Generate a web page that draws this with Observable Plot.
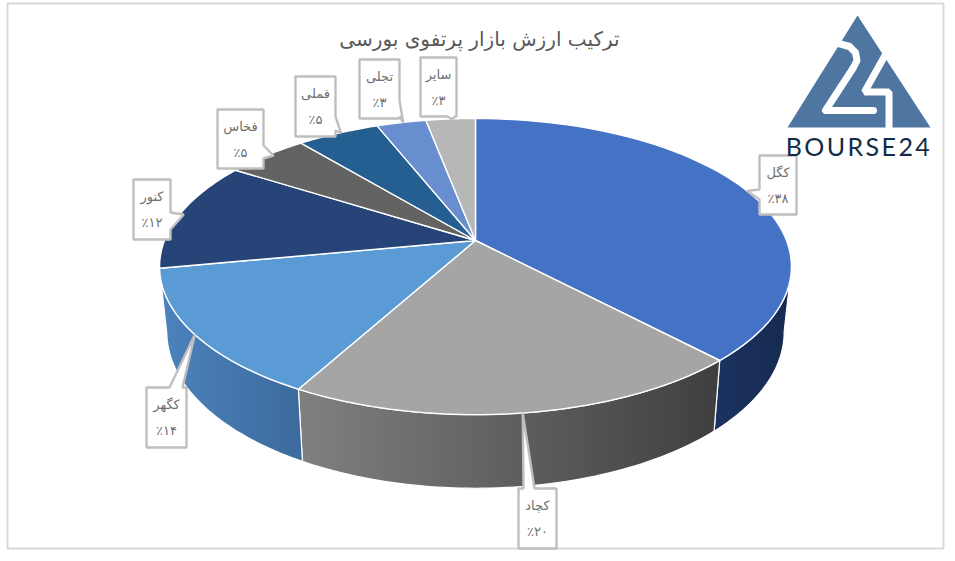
<!DOCTYPE html>
<html lang="fa">
<head>
<meta charset="utf-8">
<script src="https://cdn.jsdelivr.net/npm/d3@7"></script>
<script src="https://cdn.jsdelivr.net/npm/@observablehq/plot@0.6"></script>
<style>
html,body{margin:0;padding:0;background:#fff;}
svg{display:block;}
</style>
</head>
<body>
<div id="chart"></div>
<script>
// ---- data ----
const titleText = "ترکیب ارزش بازار پرتفوی بورسی";
const logoText = "BOURSE24";
const symbols = ["کگل", "کچاد", "کگهر", "کنور", "فخاس", "فملی", "تجلی", "سایر"];
const shares = [38, 20, 14, 12, 5, 5, 3, 3];
const sliceColors = ["#4472c4", "#a5a5a5", "#5b9bd5", "#264478", "#636363", "#255e91", "#698ed0", "#b7b7b7"];

// ---- layout constants ----
const W = 955, H = 561;
const pie = {cx: 475, cy: 240, a: 311, b: 143.5, p: 0.176, floorCy: 304, floorScaleX: 0.977, floorScaleY: 1.055};
const VISIBLE = [100, 260]; // degrees of rim facing the viewer
const calloutBoxes = [
  {box: [759, 155, 796, 214], side: "left", base: [189, 199], dx: 0},
  {box: [518, 488, 556, 548], side: "top", base: [523, 534], dx: 0},
  {box: [146, 387, 186, 447], side: "top", base: [169, 182], dx: 0},
  {box: [133, 179, 170, 239], side: "right", base: [212, 229], dx: 4},
  {box: [217, 109, 263, 168], side: "right", base: [145, 158], dx: 7},
  {box: [295, 76, 335, 136], side: "right", base: [116, 130], dx: 3},
  {box: [359, 59, 399, 118], side: "right", base: [100, 116], dx: 2},
  {box: [420, 57, 456, 116], side: "bottom", base: [447, 455], dx: 1}
];
const wallGradients = {
  wall0: ["#1b3361", "#162a50"],
  wall1: ["#808080", "#3f3f3f"],
  wall2: ["#4c83bd", "#3c6a9c"]
};
const logoColor = "#4f76a0";

// ---- projection of the tilted disc ----
const rad = d => d * Math.PI / 180;
function rim(deg) {
  const s = Math.sin(rad(deg)), c = Math.cos(rad(deg)), d = 1 + pie.p * c;
  return {x: pie.cx + pie.a * s / d, y: pie.cy - pie.b * c / d};
}
function floor(deg) {
  const s = Math.sin(rad(deg)), c = Math.cos(rad(deg)), d = 1 + pie.p * c;
  return {x: pie.cx + pie.floorScaleX * pie.a * s / d, y: pie.floorCy - pie.floorScaleY * pie.b * c / d};
}
const arc = (f, a0, a1) => d3.range(0, 61).map(i => f(a0 + (a1 - a0) * i / 60));

const cumulative = d3.cumsum(shares);
const total = d3.sum(shares);
const slices = shares.map((v, i) => ({
  i, start: (cumulative[i] - v) / total * 360, end: cumulative[i] / total * 360
}));

// top faces
const topRows = slices.flatMap(s => {
  const pts = [{x: pie.cx, y: pie.cy}, ...arc(rim, s.start, s.end), {x: pie.cx, y: pie.cy}];
  return pts.map(p => ({...p, z: s.i}));
});

// outer wall faces
const wallRows = slices.flatMap(s => {
  const a0 = Math.max(s.start, VISIBLE[0]), a1 = Math.min(s.end, VISIBLE[1]);
  if (a1 <= a0) return [];
  const pts = [...arc(rim, a0, a1), ...arc(floor, a1, a0)];
  pts.push(pts[0]);
  return pts.map(p => ({...p, z: s.i}));
});

// callouts
const callouts = slices.map(s => {
  const L = calloutBoxes[s.i], [x0, y0, x1, y1] = L.box, [b0, b1] = L.base;
  const t = rim((s.start + s.end) / 2), tip = {x: t.x + L.dx, y: t.y};
  const P = (x, y) => ({x, y});
  const top = L.side === "top" ? [P(b0, y0), tip, P(b1, y0)] : [];
  const right = L.side === "right" ? [P(x1, b0), tip, P(x1, b1)] : [];
  const bottom = L.side === "bottom" ? [P(b1, y1), tip, P(b0, y1)] : [];
  const left = L.side === "left" ? [P(x0, b1), tip, P(x0, b0)] : [];
  const outline = [P(x0, y0), ...top, P(x1, y0), ...right, P(x1, y1), ...bottom, P(x0, y1), ...left, P(x0, y0)];
  return {i: s.i, outline, cx: (x0 + x1) / 2, y0};
});
const calloutRows = callouts.flatMap(c => c.outline.map(p => ({...p, z: c.i})));
const persian = n => String(n).replace(/\d/g, d => "۰۱۲۳۴۵۶۷۸۹"[d]);
const nameRows = callouts.map(c => ({x: c.cx, y: c.y0 + 17, t: symbols[c.i]}));
const valueRows = callouts.map(c => ({x: c.cx, y: c.y0 + 43, t: "٪" + persian(shares[c.i])}));

// logo
const logoTriangle = [[857, 15], [787, 127], [930, 127], [857, 15]].map(([x, y]) => ({x, y}));
const logoTwo = [[838, 43], [849, 46], [855, 52], [856.5, 60], [853, 67], [825, 110], [873, 110]].map(([x, y]) => ({x, y}));
const logoFour = [[888.5, 130], [888.5, 91.5], [864, 91.5], [885, 54]].map(([x, y]) => ({x, y}));
const frame = [[7, 3], [943, 3], [943, 548], [7, 548], [7, 3]].map(([x, y]) => ({x, y}));

const uiFont = "'DejaVu Sans', 'Noto Sans', sans-serif";

const chart = Plot.plot({
  width: W, height: H,
  margin: 0,
  x: {domain: [0, W], range: [0, W], axis: null},
  y: {domain: [0, H], range: [0, H], axis: null},
  style: {background: "#fff"},
  marks: [
    () => {
      const ns = "http://www.w3.org/2000/svg";
      const defs = document.createElementNS(ns, "defs");
      for (const [id, [c0, c1]] of Object.entries(wallGradients)) {
        const g = document.createElementNS(ns, "linearGradient");
        g.setAttribute("id", id);
        [[0, c0], [1, c1]].forEach(([o, c]) => {
          const st = document.createElementNS(ns, "stop");
          st.setAttribute("offset", o);
          st.setAttribute("stop-color", c);
          g.appendChild(st);
        });
        defs.appendChild(g);
      }
      return defs;
    },
    Plot.line(frame, {x: "x", y: "y", stroke: "#d9d9d9", strokeWidth: 2, curve: "linear"}),
    Plot.text([titleText], {x: () => 479, y: () => 39, text: d => d, fontFamily: uiFont, fontSize: 20, fill: "#595959"}),
    // walls, one colour ramp per visible slice
    ...[0, 1, 2].map(k => Plot.line(wallRows.filter(d => d.z === k), {
      x: "x", y: "y", fill: `url(#wall${k})`, stroke: "#fff", strokeWidth: 1.2, curve: "linear"
    })),
    // top faces
    ...slices.map(s => Plot.line(topRows.filter(d => d.z === s.i), {
      x: "x", y: "y", fill: sliceColors[s.i], stroke: "#fff", strokeWidth: 1.4, strokeLinejoin: "round", curve: "linear"
    })),
    // callouts
    ...callouts.map(c => Plot.line(calloutRows.filter(d => d.z === c.i), {
      x: "x", y: "y", fill: "#fff", stroke: "#bfbfbf", strokeWidth: 2.4, strokeLinejoin: "miter", curve: "linear"
    })),
    Plot.text(nameRows, {x: "x", y: "y", text: "t", fontFamily: uiFont, fontSize: 13, fill: "#6e6e6e"}),
    Plot.text(valueRows, {x: "x", y: "y", text: "t", fontFamily: uiFont, fontSize: 13, fill: "#6e6e6e"}),
    // logo
    Plot.line(logoTriangle, {x: "x", y: "y", fill: logoColor, stroke: "none", curve: "linear"}),
    Plot.line(logoTwo, {x: "x", y: "y", stroke: "#fff", strokeWidth: 7, strokeLinejoin: "round", curve: "linear"}),
    Plot.line(logoFour, {x: "x", y: "y", stroke: "#fff", strokeWidth: 7, strokeLinejoin: "miter", curve: "linear"}),
    Plot.text([logoText], {x: () => 858.5, y: () => 147, text: d => d, fontFamily: "Lato, sans-serif", fontSize: 25, fill: "#132c46", className: "logo-word"})
  ]
});
d3.select(chart).selectAll(".logo-word text").attr("letter-spacing", "2.4px");
document.getElementById("chart").appendChild(chart);
</script>
</body>
</html>
